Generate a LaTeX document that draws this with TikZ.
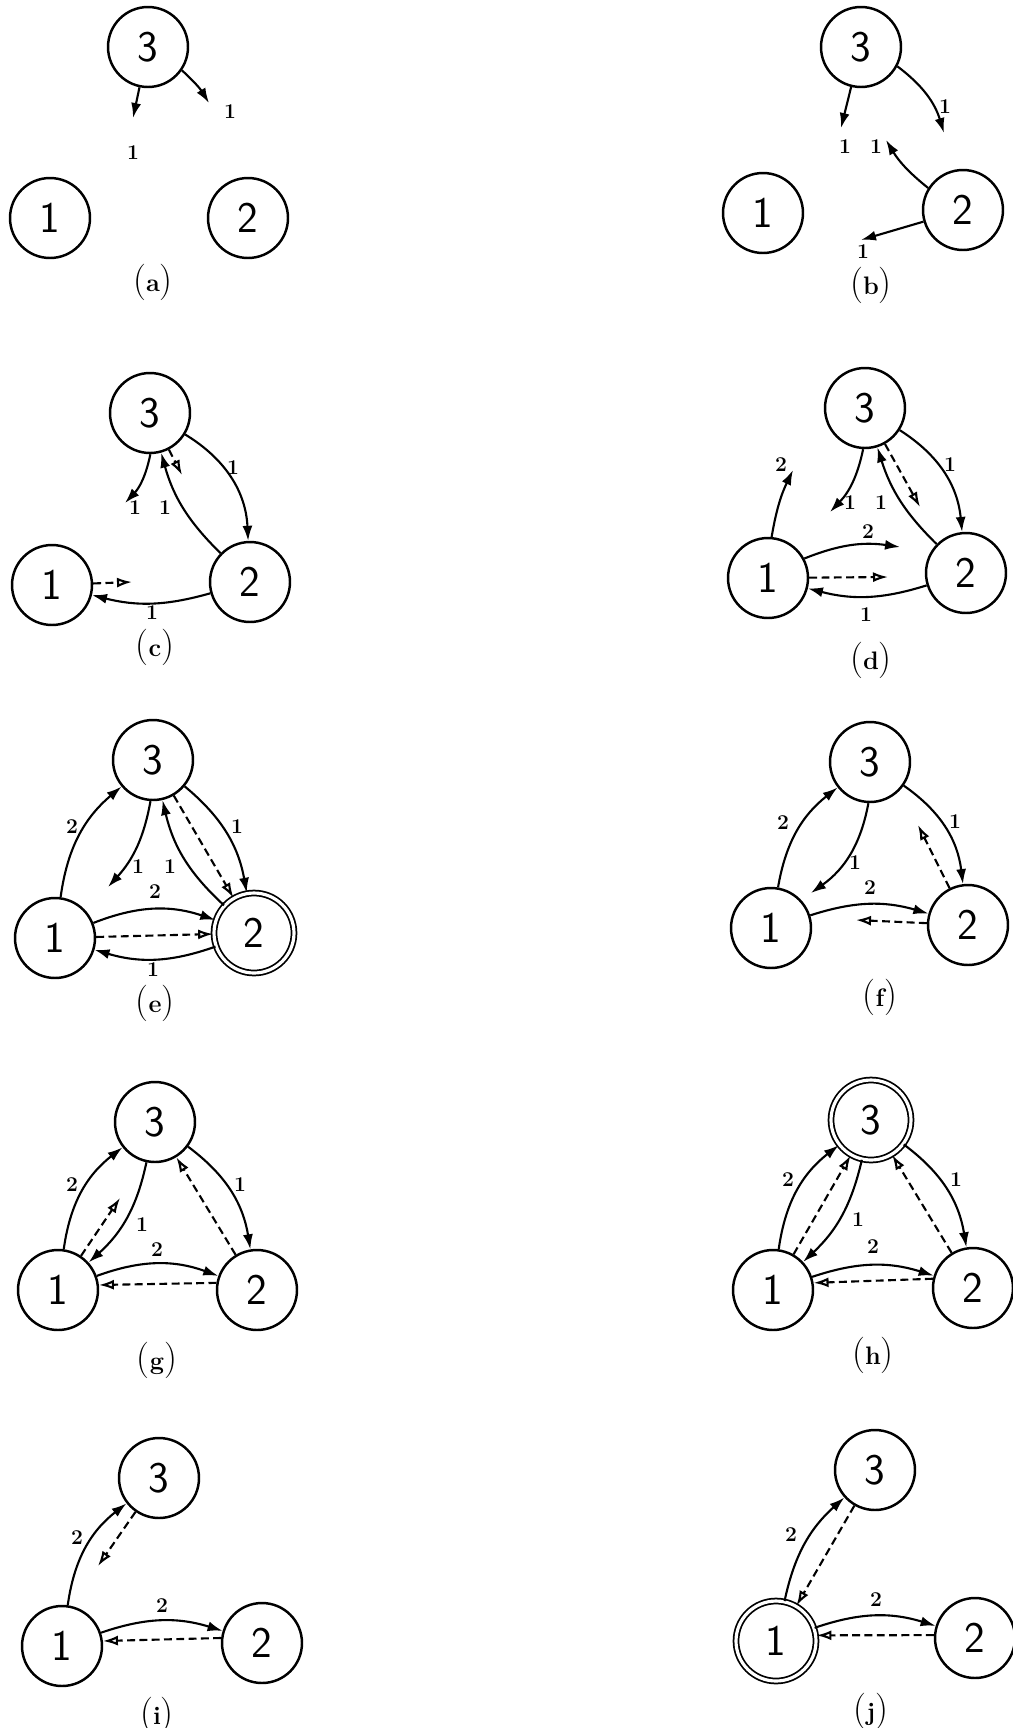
\documentclass[tikz,border=0pt]{standalone}
\usetikzlibrary{arrows.meta}
\usetikzlibrary{positioning}
\tikzset{
    proc/.style={circle, draw=black, line width=1.4pt, minimum size=1.6cm, inner sep=0pt, font=\sffamily\Huge},
    home/.style={proc, double, double distance=1.8pt, line width=1pt},
    msg/.style={line width=1.2pt, -{Latex[length=3mm,width=2mm]}},
    probe/.style={line width=1.2pt, dash pattern=on 4.5pt off 2.5pt, -{Latex[open,length=3mm,width=2mm]}},
    wt/.style={font=\bfseries\large, inner sep=0pt},
    sublabel/.style={inner sep=0pt},
}
\newcommand{\sublab}[1]{{\huge(}{\Large\bfseries #1}{\huge)}}

\begin{document}
\begin{tikzpicture}[x=0.02cm, y=0.02cm]
    \useasboundingbox (0,0) rectangle (1013,-1728);

    % (a)
    \node (a3) at (148,-47) [proc] {3};
    \node (a1) at (50,-218) [proc] {1};
    \node (a2) at (248,-218) [proc] {2};
    \coordinate (ea1) at (133,-118);
    \coordinate (ea2) at (209,-103);
    \draw[msg] (a3) -- (ea1);
    \draw[msg] (a3) to[bend left=8] (ea2);
    \node (wa1) at (133,-153) [wt] {1};
    \node (wa2) at (230,-112) [wt] {1};
    \node (sa) at (153,-282) [sublabel] {\sublab{a}};

    % (b)
    \node (b3) at (861,-47) [proc] {3};
    \node (b1) at (763,-213) [proc] {1};
    \node (b2) at (963,-210) [proc] {2};
    \coordinate (eb1) at (841,-128);
    \coordinate (eb2) at (944,-133);
    \coordinate (eb3) at (886,-140);
    \coordinate (eb4) at (861,-240);
    \draw[msg] (b3) -- (eb1);
    \draw[msg] (b3) to[bend left=18] (eb2);
    \draw[msg] (b2) to[bend left=10] (eb3);
    \draw[msg] (b2) -- (eb4);
    \node (wb1) at (845,-147) [wt] {1};
    \node (wb2) at (945,-107) [wt] {1};
    \node (wb3) at (876,-147) [wt] {1};
    \node (wb4) at (863,-252) [wt] {1};
    \node (sb) at (871,-285) [sublabel] {\sublab{b}};

    % (c)
    \node (c3) at (150,-413) [proc] {3};
    \node (c1) at (52,-585) [proc] {1};
    \node (c2) at (250,-582) [proc] {2};
    \coordinate (ec1) at (125,-503);
    \coordinate (ec2) at (182,-475);
    \coordinate (ec3) at (132,-582);
    \draw[msg] (c3) to[bend left=16] (ec1);
    \draw[probe] (c3) -- (ec2);
    \draw[msg] (c3) to[bend left=28] (c2);
    \draw[msg] (c2) to[bend left=15] (c3);
    \draw[probe] (c1) -- (ec3);
    \draw[msg] (c2) to[bend left=15] (c1);
    \node (wc1) at (135,-508) [wt] {1};
    \node (wc2) at (165,-508) [wt] {1};
    \node (wc3) at (233,-468) [wt] {1};
    \node (wc4) at (152,-613) [wt] {1};
    \node (sc) at (155,-647) [sublabel] {\sublab{c}};

    % (d)
    \node (d3) at (865,-408) [proc] {3};
    \node (d1) at (768,-578) [proc] {1};
    \node (d2) at (966,-573) [proc] {2};
    \coordinate (ed1) at (793,-470);
    \coordinate (ed2) at (830,-512);
    \coordinate (ed3) at (920,-507);
    \coordinate (ed4) at (900,-547);
    \coordinate (ed5) at (888,-577);
    \draw[msg] (d1) to[bend left=8] (ed1);
    \draw[msg] (d3) to[bend left=16] (ed2);
    \draw[msg] (d2) to[bend left=14] (d3);
    \draw[probe] (d3) -- (ed3);
    \draw[msg] (d3) to[bend left=26] (d2);
    \draw[msg] (d1) to[bend left=15] (ed4);
    \draw[probe] (d1) -- (ed5);
    \draw[msg] (d2) to[bend left=16] (d1);
    \node (wd1) at (781,-465) [wt] {2};
    \node (wd2) at (850,-503) [wt] {1};
    \node (wd3) at (881,-503) [wt] {1};
    \node (wd4) at (950,-465) [wt] {1};
    \node (wd5) at (868,-532) [wt] {2};
    \node (wd6) at (866,-615) [wt] {1};
    \node (sd) at (871,-660) [sublabel] {\sublab{d}};

    % (e)
    \node (e3) at (153,-760) [proc] {3};
    \node (e1) at (55,-938) [proc] {1};
    \node (e2) at (254,-933) [home] {2};
    \coordinate (ee1) at (108,-887);
    \draw[msg] (e1) to[bend left=21] (e3);
    \draw[msg] (e3) to[bend left=16] (ee1);
    \draw[msg] (e2) to[bend left=17] (e3);
    \draw[probe] (e3) -- (e2);
    \draw[msg] (e3) to[bend left=20] (e2);
    \draw[msg] (e1) to[bend left=20] (e2);
    \draw[probe] (e1) -- (e2);
    \draw[msg] (e2) to[bend left=18] (e1);
    \node (we1) at (72,-827) [wt] {2};
    \node (we2) at (138,-867) [wt] {1};
    \node (we3) at (170,-867) [wt] {1};
    \node (we4) at (237,-827) [wt] {1};
    \node (we5) at (155,-892) [wt] {2};
    \node (we6) at (153,-970) [wt] {1};
    \node (se) at (155,-1003) [sublabel] {\sublab{e}};

    % (f)
    \node (f3) at (870,-762) [proc] {3};
    \node (f1) at (771,-928) [proc] {1};
    \node (f2) at (968,-925) [proc] {2};
    \coordinate (ef1) at (811,-893);
    \coordinate (ef2) at (918,-825);
    \coordinate (ef3) at (856,-920);
    \draw[msg] (f1) to[bend left=21] (f3);
    \draw[msg] (f3) to[bend left=22] (ef1);
    \draw[msg] (f3) to[bend left=24] (f2);
    \draw[probe] (f2) -- (ef2);
    \draw[msg] (f1) to[bend left=17] (f2);
    \draw[probe] (f2) -- (ef3);
    \node (wf1) at (783,-823) [wt] {2};
    \node (wf2) at (855,-863) [wt] {1};
    \node (wf3) at (955,-822) [wt] {1};
    \node (wf4) at (870,-888) [wt] {2};
    \node (sf) at (880,-997) [sublabel] {\sublab{f}};

    % (g)
    \node (g3) at (155,-1122) [proc] {3};
    \node (g1) at (58,-1290) [proc] {1};
    \node (g2) at (257,-1290) [proc] {2};
    \coordinate (eg1) at (120,-1198);
    \draw[msg] (g1) to[bend left=22] (g3);
    \draw[probe] (g1) -- (eg1);
    \draw[msg] (g3) to[bend left=18] (g1);
    \draw[probe] (g2) -- (g3);
    \draw[msg] (g3) to[bend left=22] (g2);
    \draw[msg] (g1) to[bend left=20] (g2);
    \draw[probe] (g2.170) -- (g1.7);
    \node (wg1) at (72,-1185) [wt] {2};
    \node (wg2) at (142,-1225) [wt] {1};
    \node (wg3) at (240,-1185) [wt] {1};
    \node (wg4) at (157,-1250) [wt] {2};
    \node (sg) at (157,-1360) [sublabel] {\sublab{g}};

    % (h)
    \node (h3) at (871,-1120) [home] {3};
    \node (h1) at (773,-1290) [proc] {1};
    \node (h2) at (973,-1288) [proc] {2};
    \draw[msg] (h1) to[bend left=22] (h3);
    \draw[probe] (h1) -- (h3);
    \draw[msg] (h3) to[bend left=17] (h1);
    \draw[probe] (h2) -- (h3);
    \draw[msg] (h3) to[bend left=22] (h2);
    \draw[msg] (h1) to[bend left=18] (h2);
    \draw[probe] (h2.167) -- (h1.10);
    \node (wh1) at (788,-1180) [wt] {2};
    \node (wh2) at (858,-1220) [wt] {1};
    \node (wh3) at (956,-1180) [wt] {1};
    \node (wh4) at (873,-1247) [wt] {2};
    \node (sh) at (873,-1355) [sublabel] {\sublab{h}};

    % (i)
    \node (i3) at (159,-1478) [proc] {3};
    \node (i1) at (62,-1646) [proc] {1};
    \node (i2) at (262,-1643) [proc] {2};
    \coordinate (ei1) at (98,-1566);
    \draw[msg] (i1) to[bend left=22] (i3);
    \draw[probe] (i3) -- (ei1);
    \draw[msg] (i1) to[bend left=18] (i2);
    \draw[probe] (i2.173) -- (i1.7);
    \node (wi1) at (77,-1538) [wt] {2};
    \node (wi2) at (162,-1606) [wt] {2};
    \node (si) at (157,-1715) [sublabel] {\sublab{i}};

    % (j)
    \node (j3) at (875,-1470) [proc] {3};
    \node (j1) at (776,-1641) [home] {1};
    \node (j2) at (975,-1638) [proc] {2};
    \draw[msg] (j1) to[bend left=18] (j3);
    \draw[probe] (j3) -- (j1);
    \draw[msg] (j1) to[bend left=18] (j2);
    \draw[probe] (j2.176) -- (j1.8);
    \node (wj1) at (791,-1535) [wt] {2};
    \node (wj2) at (876,-1600) [wt] {2};
    \node (sj) at (871,-1711) [sublabel] {\sublab{j}};
\end{tikzpicture}
\end{document}
